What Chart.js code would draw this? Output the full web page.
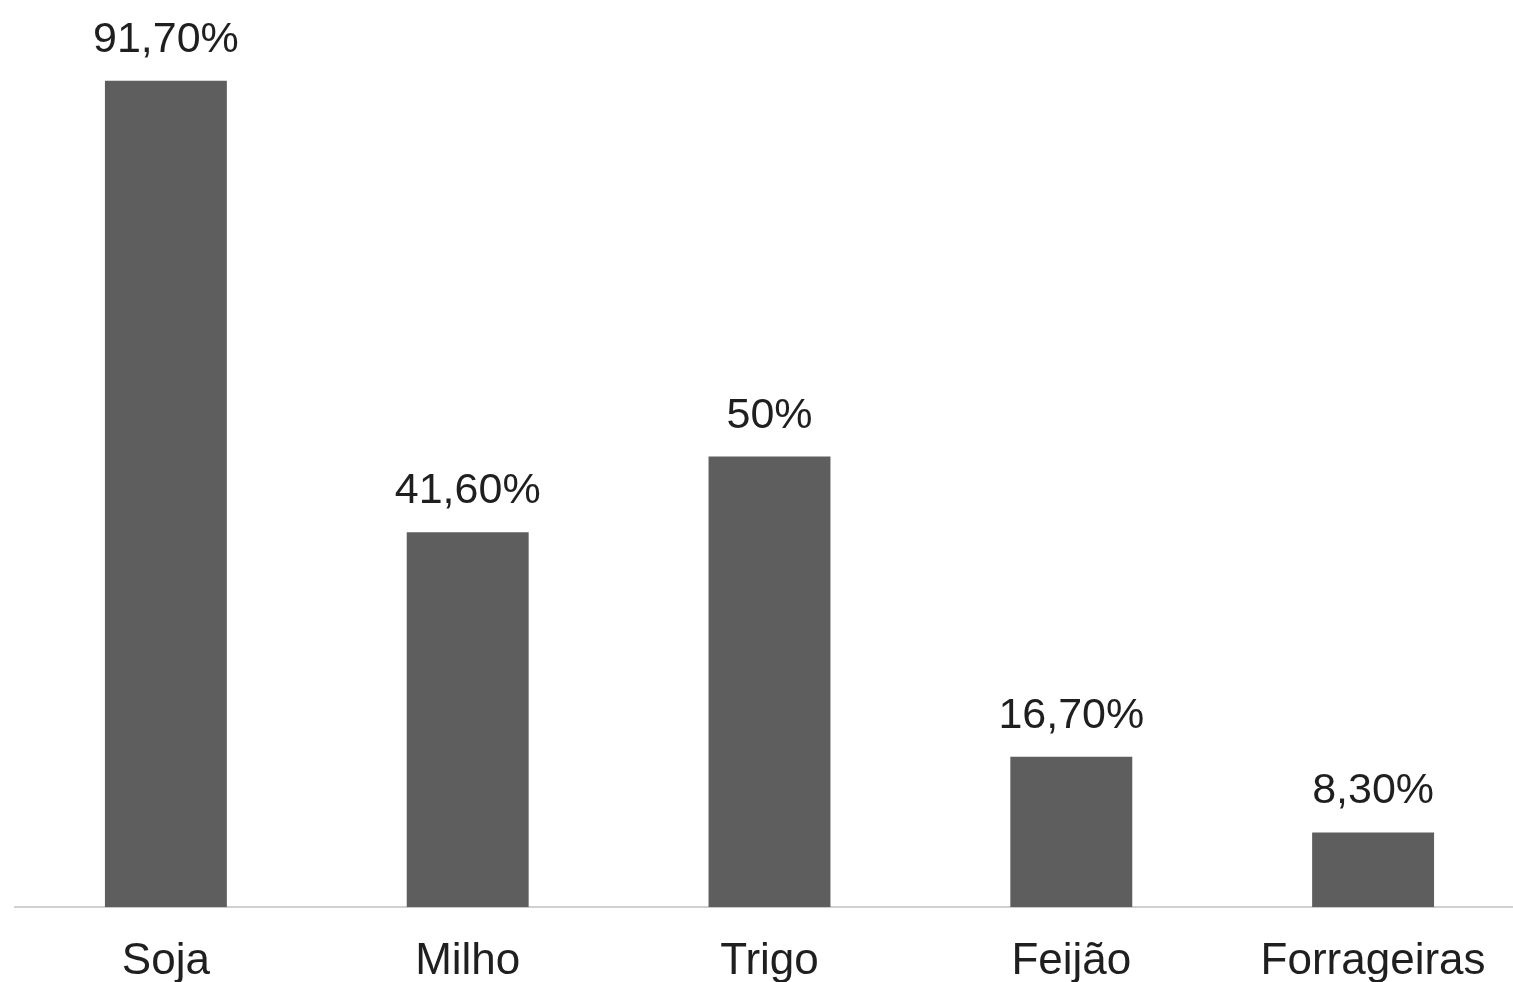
<!DOCTYPE html>
<html>
<head>
<meta charset="utf-8">
<script src="https://cdn.jsdelivr.net/npm/chart.js@4"></script>
<style>
  html, body { margin: 0; padding: 0; background: #fff; overflow: hidden; }
  #wrap { width: 1524px; height: 985px; position: relative; }
</style>
</head>
<body>
<div id="wrap"><canvas id="crops-chart"></canvas></div>
<script>
const categories = ['Soja', 'Milho', 'Trigo', 'Feijão', 'Forrageiras'];
const percentValues = [91.7, 41.6, 50, 16.7, 8.3];
const valueLabels = ['91,70%', '41,60%', '50%', '16,70%', '8,30%'];

const ctx = document.getElementById('crops-chart').getContext('2d');
const FONT = '"Liberation Sans", Arial, sans-serif';

// draw the percentage text above each bar
const barLabels = {
    id: 'barLabels',
    afterDatasetsDraw(chart) {
        const c = chart.ctx;
        const meta = chart.getDatasetMeta(0);
        c.save();
        c.font = '43px ' + FONT;
        c.fillStyle = '#1f1f1f';
        c.textAlign = 'center';
        c.textBaseline = 'alphabetic';
        meta.data.forEach((bar, i) => {
            c.fillText(valueLabels[i], bar.x, bar.y - 29);
        });
        c.restore();
    }
};

new Chart(ctx, {
    type: 'bar',
    data: {
        labels: categories,
        datasets: [{
            data: percentValues,
            backgroundColor: '#5e5e5e',
            borderWidth: 0,
            barPercentage: 0.404,
            categoryPercentage: 1
        }]
    },
    options: {
        responsive: true,
        maintainAspectRatio: false,
        animation: false,
        layout: { padding: { left: 15, right: 0, top: 6, bottom: -31 } },
        plugins: {
            legend: { display: false },
            tooltip: { enabled: false }
        },
        scales: {
            x: {
                grid: { display: false, drawTicks: false },
                border: { display: true, color: '#d0d0d0', width: 2 },
                ticks: {
                    color: '#1f1f1f',
                    padding: 28,
                    font: { family: FONT, size: 44 }
                }
            },
            y: {
                display: false,
                min: 0,
                max: 100
            }
        }
    },
    plugins: [barLabels]
});
</script>
</body>
</html>
